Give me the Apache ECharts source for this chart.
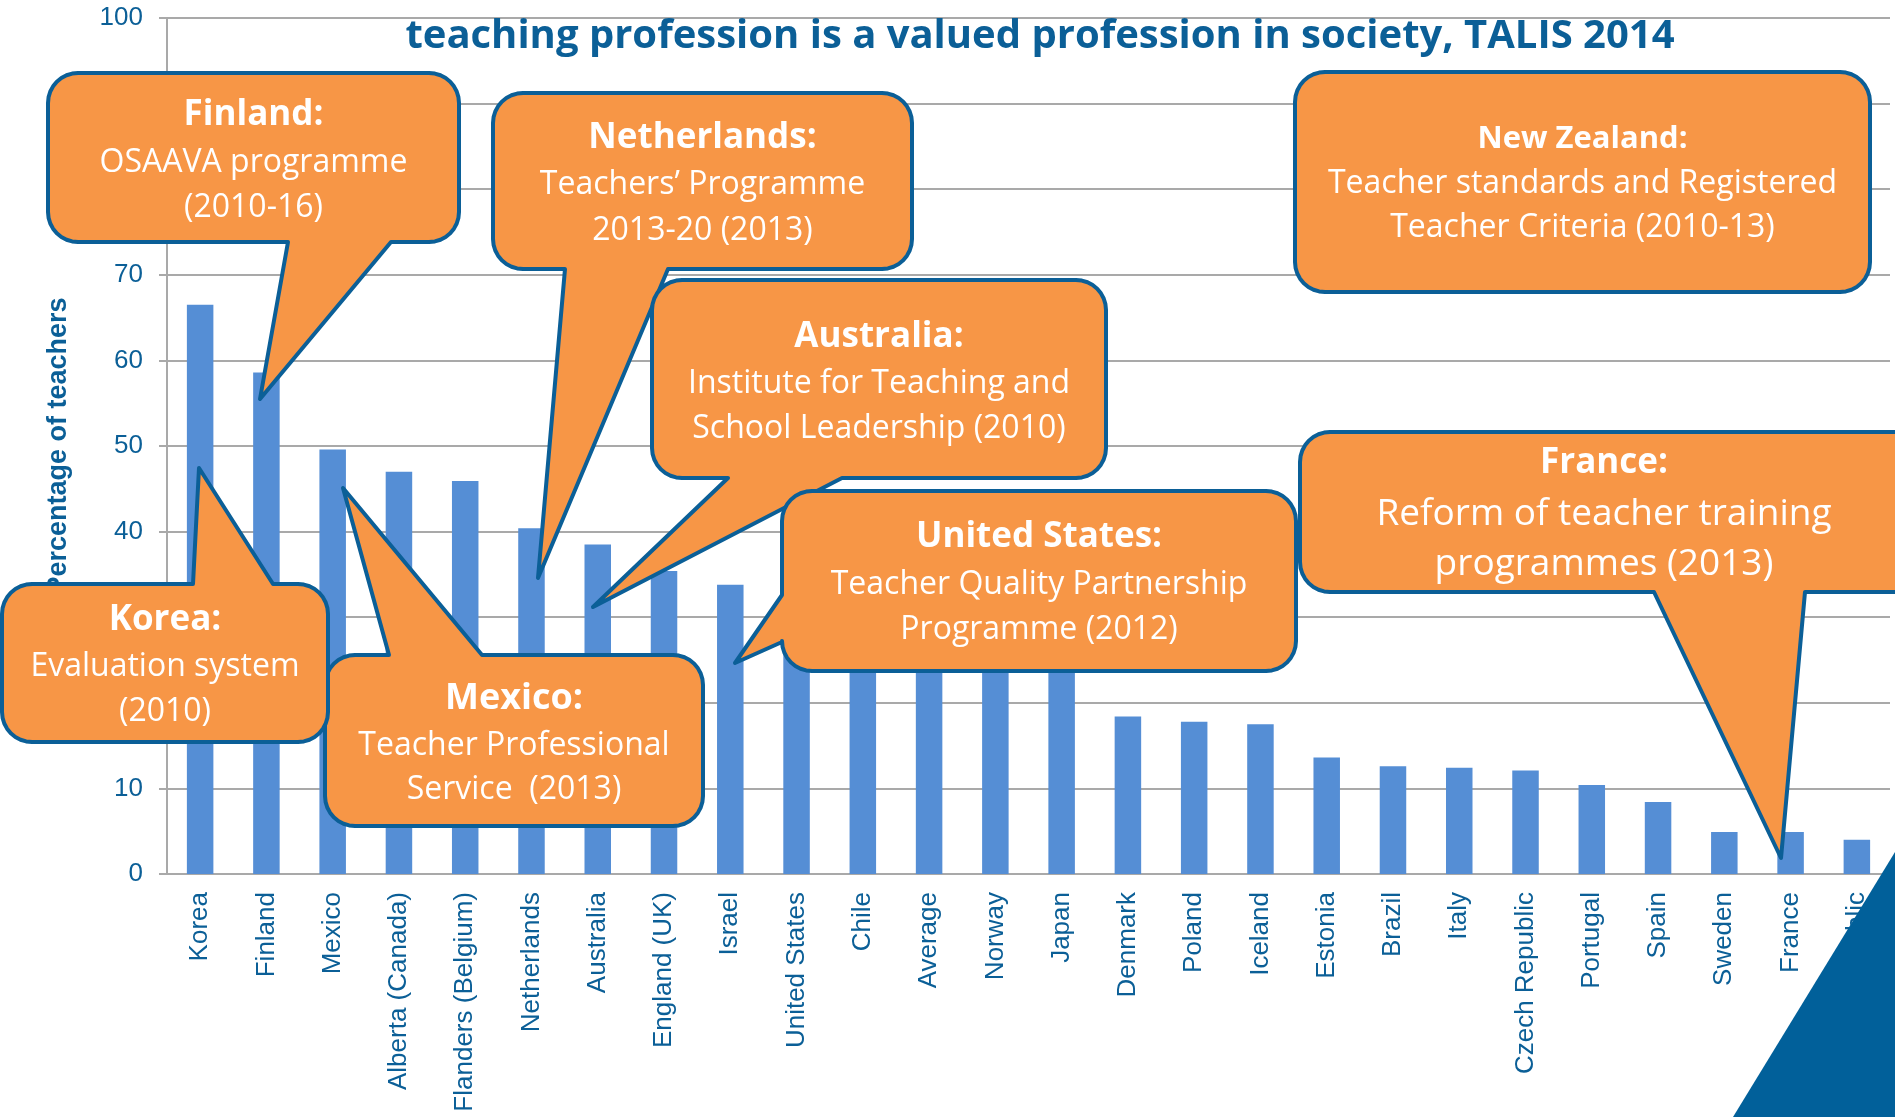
<!DOCTYPE html>
<html>
<head>
<meta charset="utf-8">
<title>Teaching profession valued in society, TALIS 2014</title>
<script src="https://cdn.jsdelivr.net/npm/echarts@6/dist/echarts.min.js"></script>
<style>
    html, body { margin: 0; padding: 0; background: #fff; }
    #main { width: 1895px; height: 1117px; }
</style>
</head>
<body>
<div id="main"></div>
<script>
// categories, in the order of the chart
var countries = ['Korea', 'Finland', 'Mexico', 'Alberta (Canada)', 'Flanders (Belgium)', 'Netherlands',
    'Australia', 'England (UK)', 'Israel', 'United States', 'Chile', 'Average', 'Norway', 'Japan',
    'Denmark', 'Poland', 'Iceland', 'Estonia', 'Brazil', 'Italy', 'Czech Republic', 'Portugal',
    'Spain', 'Sweden', 'France', 'Slovak Republic'];

// % of teachers who agree teaching is a valued profession in society
var percentValued = [66.5, 58.6, 49.6, 47.0, 45.9, 40.4, 38.5, 35.4, 33.8, 33.6, 32.5, 30.9, 30.6, 28.1,
    18.4, 17.8, 17.5, 13.6, 12.6, 12.4, 12.1, 10.4, 8.4, 4.9, 4.9, 4.0];

var yMin = 0;
var yMax = 100;
var yStep = 10;

var titleText = 'teaching profession is a valued profession in society, TALIS 2014';
var yAxisName = 'Percentage of teachers';

// callout texts: heading + body lines
var calloutHeads = ['Finland:', 'Netherlands:', 'Australia:', 'United States:', 'New Zealand:', 'France:', 'Mexico:', 'Korea:'];
var calloutBodies = [
    ['OSAAVA programme', '(2010-16)'],
    ['Teachers\u2019 Programme', '2013-20 (2013)'],
    ['Institute for Teaching and', 'School Leadership (2010)'],
    ['Teacher Quality Partnership', 'Programme (2012)'],
    ['Teacher standards and Registered', 'Teacher Criteria (2010-13)'],
    ['Reform of teacher training', 'programmes (2013)'],
    ['Teacher Professional', 'Service  (2013)'],
    ['Evaluation system', '(2010)']
];

var blue = '#0b5f97';
var orange = '#f79646';
var gray = '#a9a9a9';
var axisFont = '"Liberation Sans", Arial, sans-serif';
var boxFont = '"Open Sans", sans-serif';

// box geometry (pixels) for each callout, same order as calloutHeads
var boxes = [
    {x0: 48, y0: 73, x1: 459, y1: 242, ptr: {side: 'bottom', pts: [[391, 242], [260, 399], [288, 242]]},
        ys: [115, 163, 208], head: 35, body: 32},
    {x0: 493, y0: 93, x1: 912, y1: 269, ptr: {side: 'bottom', pts: [[668, 269], [538, 578], [565, 269]]},
        ys: [138, 185, 231], head: 35, body: 32},
    {x0: 652, y0: 280, x1: 1106, y1: 478, ptr: {side: 'bottom', pts: [[842, 478], [593, 607], [728, 478]]},
        ys: [337, 384, 429], head: 35, body: 32},
    {x0: 782, y0: 491, x1: 1296, y1: 671, ptr: {side: 'left', pts: [[782, 642], [735, 663], [782, 595]]},
        ys: [537, 585, 630], head: 35, body: 32},
    {x0: 1295, y0: 72, x1: 1870, y1: 292, ptr: null,
        ys: [139, 184, 228], head: 31, body: 32},
    {x0: 1300, y0: 432, x1: 1940, y1: 592, ptr: {side: 'bottom', pts: [[1805, 592], [1781, 858], [1654, 592]]},
        ys: [463, 514, 564], head: 35, body: 37},
    {x0: 325, y0: 655, x1: 703, y1: 826, ptr: {side: 'top', pts: [[389, 655], [343, 488], [482, 655]]},
        ys: [699, 746, 790], head: 36, body: 32},
    {x0: 2, y0: 584, x1: 328, y1: 742, ptr: {side: 'top', pts: [[193, 584], [199, 468], [273, 584]]},
        ys: [620, 667, 712], head: 35, body: 32}
];

function roundedBox(b, r) {
    var pts = [];
    var P = Math.PI;
    function arc(cx, cy, a0, a1) {
        for (var i = 0; i <= 8; i++) {
            var a = a0 + (a1 - a0) * i / 8;
            pts.push([cx + r * Math.cos(a), cy + r * Math.sin(a)]);
        }
    }
    function pointer(side) {
        if (b.ptr && b.ptr.side === side) {
            b.ptr.pts.forEach(function(p) { pts.push(p); });
        }
    }
    arc(b.x0 + r, b.y0 + r, P, 1.5 * P);
    pointer('top');
    arc(b.x1 - r, b.y0 + r, 1.5 * P, 2 * P);
    pointer('right');
    arc(b.x1 - r, b.y1 - r, 0, 0.5 * P);
    pointer('bottom');
    arc(b.x0 + r, b.y1 - r, 0.5 * P, P);
    pointer('left');
    return pts;
}

function textEl(str, x, y, font, z) {
    return {
        type: 'text',
        z: z,
        style: {
            text: str, x: x, y: y,
            fill: '#fff', font: font,
            align: 'center', verticalAlign: 'middle',
            textAlign: 'center', textVerticalAlign: 'middle'
        }
    };
}

function buildCallouts() {
    var els = [];
    boxes.forEach(function(b, i) {
        var z = 10 + i * 2;
        var cx = i === 5 ? 1604 : (b.x0 + b.x1) / 2;
        els.push({
            type: 'polygon',
            z: z,
            shape: {points: roundedBox(b, 30)},
            style: {fill: orange, stroke: blue, lineWidth: 4, lineJoin: 'round'}
        });
        els.push(textEl(calloutHeads[i], cx, b.ys[0], 'bold ' + b.head + 'px ' + boxFont, z + 1));
        calloutBodies[i].forEach(function(line, k) {
            els.push(textEl(line, cx, b.ys[k + 1], b.body + 'px ' + boxFont, z + 1));
        });
    });
    // dark corner triangle of the slide
    els.push({
        type: 'polygon',
        z: 40,
        shape: {points: [[1733, 1117], [1895, 852], [1895, 1117]]},
        style: {fill: '#01609a'}
    });
    return els;
}

var chart = echarts.init(document.getElementById('main'));

var option = {
    animation: false,
    backgroundColor: '#fff',
    title: {
        text: titleText,
        left: 1035,
        top: 12,
        textAlign: 'center',
        textStyle: {
            color: blue,
            fontSize: 40,
            fontWeight: 'bold',
            fontFamily: boxFont
        }
    },
    grid: {
        left: 167,
        right: 5,
        top: 18,
        bottom: 243
    },
    xAxis: {
        type: 'category',
        data: countries,
        axisLine: {lineStyle: {color: gray, width: 2}},
        axisTick: {length: 8, lineStyle: {color: gray, width: 2}},
        axisLabel: {
            rotate: 90,
            interval: 0,
            margin: 18,
            color: blue,
            fontSize: 26,
            fontFamily: axisFont
        }
    },
    yAxis: {
        type: 'value',
        min: yMin,
        max: yMax,
        interval: yStep,
        name: yAxisName,
        nameLocation: 'middle',
        nameGap: 95,
        nameTextStyle: {
            color: blue,
            fontSize: 27,
            fontWeight: 'bold',
            fontFamily: axisFont
        },
        axisLine: {show: true, lineStyle: {color: gray, width: 2}},
        axisTick: {show: true, length: 8, lineStyle: {color: gray, width: 2}},
        axisLabel: {
            margin: 24,
            color: blue,
            fontSize: 26,
            fontFamily: axisFont
        },
        splitLine: {lineStyle: {color: gray, width: 2}}
    },
    series: [
        {
            type: 'bar',
            data: percentValued,
            barWidth: '40%',
            itemStyle: {color: '#558ed5'}
        }
    ],
    graphic: buildCallouts()
};

chart.setOption(option);
</script>
</body>
</html>
